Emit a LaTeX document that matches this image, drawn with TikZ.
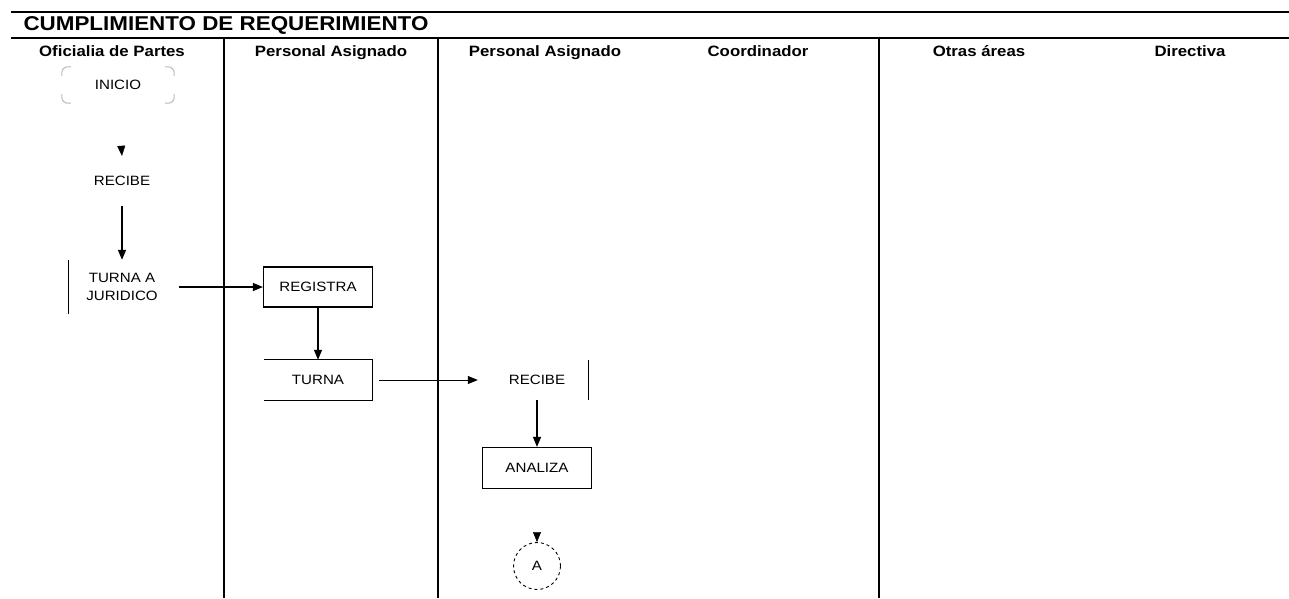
\documentclass[tikz,border=0pt]{standalone}
\usepackage{fontspec}
\setmainfont{Liberation Sans}
\newfontfamily\stretchfont[FakeStretch=1.12]{Liberation Sans}
\usetikzlibrary{arrows.meta,calc}
\begin{document}
\begin{tikzpicture}[x=1pt,y=-1pt,
  rule/.style={line width=1.8pt},
  lane/.style={line width=1.4pt},
  titletext/.style={font=\stretchfont\fontsize{20}{22}\bfseries\selectfont},
  headtext/.style={font=\stretchfont\fontsize{15}{18}\bfseries\selectfont, anchor=base},
  boxtext/.style={font=\stretchfont\fontsize{13.5}{18}\selectfont, align=center, inner sep=0pt},
  procbox/.style={boxtext, draw, line width=1.2pt},
  flow/.style={line width=1.2pt, -{Triangle[length=10pt,width=8pt]}},
  ghostflow/.style={white, -{Triangle[black,length=10pt,width=8pt]}},
  cornermark/.style={gray!55, line width=1pt, rounded corners=6pt}
]
\useasboundingbox (0,0) rectangle (1289,598);
% frame lines
\coordinate (tl1) at (11,12); \coordinate (tr1) at (1289,12);
\coordinate (tl2) at (11,38); \coordinate (tr2) at (1289,38);
\draw[rule] (tl1) -- (tr1);
\draw[rule] (tl2) -- (tr2);
\node[titletext, anchor=west] (title) at (20,25) {CUMPLIMIENTO DE REQUERIMIENTO};
% lane separators
\foreach \x/\n in {224/a,438/b,879/c}{
  \coordinate (top\n) at (\x,38); \coordinate (bot\n) at (\x,598);
  \draw[lane] (top\n) -- (bot\n);
}
% headers
\node[headtext] (h1) at (112,56) {Oficialia de Partes};
\node[headtext] (h2) at (331,56) {Personal Asignado};
\node[headtext] (h3) at (545,56) {Personal Asignado};
\node[headtext] (h4) at (758,56) {Coordinador};
\node[headtext] (h5) at (979,56) {Otras áreas};
\node[headtext] (h6) at (1190,56) {Directiva};
% INICIO terminator (only corners visible)
\node[boxtext, minimum width=112pt, minimum height=36pt] (inicio) at (118,85) {INICIO};
\draw[cornermark] ($(inicio.north west)+(0,9)$) -- (inicio.north west) -- ($(inicio.north west)+(9,0)$);
\draw[cornermark] ($(inicio.north east)+(0,9)$) -- (inicio.north east) -- ($(inicio.north east)+(-9,0)$);
\draw[cornermark] ($(inicio.south west)+(0,-9)$) -- (inicio.south west) -- ($(inicio.south west)+(9,0)$);
\draw[cornermark] ($(inicio.south east)+(0,-9)$) -- (inicio.south east) -- ($(inicio.south east)+(-9,0)$);
% RECIBE 1
\node[boxtext, minimum width=60pt, minimum height=50pt] (recibe1) at (122,181) {RECIBE};
% TURNA A JURIDICO
\node[boxtext, minimum width=106pt, minimum height=54pt] (juridico) at (122,287) {TURNA A\\JURIDICO};
\draw[line width=1.2pt] (juridico.north west) -- (juridico.south west);
% REGISTRA
\node[procbox, minimum width=109pt, minimum height=40pt] (registra) at (318,287) {REGISTRA};
% TURNA
\node[boxtext, minimum width=108pt, minimum height=40pt] (turna) at (318,380) {TURNA};
\draw[line width=1.2pt] (turna.north west) -- (turna.north east) -- (turna.south east) -- (turna.south west);
% RECIBE 2
\node[boxtext, minimum width=102pt, minimum height=40pt] (recibe2) at (537,380) {RECIBE};
\draw[line width=1.2pt] (recibe2.north east) -- (recibe2.south east);
% ANALIZA
\node[procbox, minimum width=109pt, minimum height=41pt] (analiza) at (537,468) {ANALIZA};
% connector A
\node[boxtext, circle, draw, dashed, line width=0.9pt, minimum size=47pt] (conA) at (537,566) {A};
% connectors
\draw[ghostflow] (inicio.south) -- (recibe1.north);
\draw[flow] (recibe1.south) -- (juridico.north);
\draw[flow, shorten <=4pt] (juridico.east) -- (registra.west);
\draw[flow] (registra.south) -- (turna.north);
\draw[line width=0.8pt, -{Triangle[length=10pt,width=8pt]}, shorten <=7pt, shorten >=8pt] (turna.east) -- (recibe2.west);
\draw[flow] (recibe2.south) -- (analiza.north);
\draw[ghostflow] (analiza.south) -- (conA.north);
\end{tikzpicture}
\end{document}
